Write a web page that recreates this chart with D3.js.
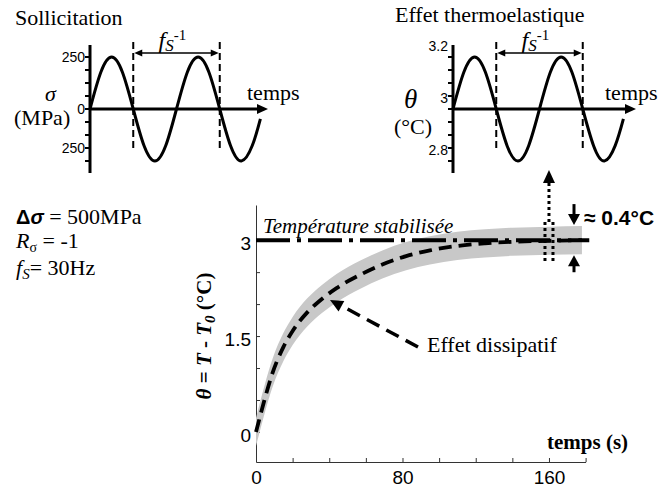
<!DOCTYPE html>
<html><head><meta charset="utf-8">
<script src="https://cdn.jsdelivr.net/npm/d3@7"></script>
<style>body{margin:0;background:#fff} svg{display:block;background:#fff}</style>
</head><body>
<svg id="c" width="661" height="492"></svg>
<script>
// ---------- data ----------
// main chart: dissipative (mean) temperature rise
const dissTime  = [0, 2, 5, 9, 15, 20, 28, 36, 44, 57, 69, 82, 95, 110, 125, 140, 160, 178];
const dissTheta = [0, 0.22, 0.54, 0.92, 1.33, 1.58, 1.87, 2.08, 2.25, 2.46, 2.62, 2.75, 2.84, 2.91, 2.95, 2.975, 2.99, 3.0];
const bandHalfWidth = 0.22;          // thermoelastic oscillation half amplitude (°C)
const stabilizedTheta = 3;
const stabilizedEnd = 182;
const markerTime = 160;
const mainXTicks  = [0, 20, 40, 60, 80, 100, 120, 140, 160, 180];
const mainXLabels = [0, 80, 160];
const mainYTicks  = [0, 0.5, 1, 1.5, 2, 2.5, 3];
const mainYLabels = [0, 1.5, 3];

// top insets: one loading cycle (phase in periods)
const cyclePhase  = [0, 0.125, 0.25, 0.375, 0.5, 0.625, 0.75, 0.875, 1, 1.125, 1.25, 1.375, 1.5, 1.625, 1.75, 1.875, 1.97];
const sigmaValues = [0, 177, 250, 177, 0, -177, -250, -177, 0, 177, 250, 177, 0, -177, -250, -177, -47];
const thetaCycle  = [3, 3.141, 3.2, 3.141, 3, 2.859, 2.8, 2.859, 3, 3.141, 3.2, 3.141, 3, 2.859, 2.8, 2.859, 2.962];
const sigmaTicks  = [-250, -187.5, -125, -62.5, 0, 62.5, 125, 187.5, 250];
const sigmaLabelValues = [250, 0, -187.5];
const sigmaLabelTexts  = ["250", "0", "250"];
const thetaTicks  = [2.8, 2.85, 2.9, 2.95, 3, 3.05, 3.1, 3.15, 3.2];
const thetaLabelValues = [3.2, 3, 2.8];
const thetaLabelTexts  = ["3.2", "3", "2.8"];
const periodMarks = [0.5, 1.5];

// ---------- drawing ----------
const svg = d3.select("#c");
const SERIF = "'Liberation Serif','Times New Roman',serif";
const SANS = "'Liberation Sans',Arial,sans-serif";

function tri(g, tipX, tipY, dirX, dirY, len, half, fill) {
  const n = Math.hypot(dirX, dirY); const ux = dirX / n, uy = dirY / n;
  const bx = tipX - ux * len, by = tipY - uy * len;
  const px = -uy, py = ux;
  g.append("path")
    .attr("d", `M${tipX},${tipY}L${bx + px * half},${by + py * half}L${bx - px * half},${by - py * half}Z`)
    .attr("fill", fill || "#000");
}

// ---- inset drawing ----
function drawInset(o) {
  const g = svg.append("g");
  const xs = d3.scaleLinear().domain([0, 1]).range([o.x0, o.x0 + 86.5]);
  const ys = d3.scaleLinear().domain(o.domain).range([161, 57]);
  const yAxis = ys(o.mid);
  g.append("line").attr("x1", o.x0).attr("x2", o.x0).attr("y1", 45).attr("y2", 173)
    .attr("stroke", "#000").attr("stroke-width", 3);
  g.selectAll(".tk").data(o.ticks).join("line")
    .attr("x1", o.x0 - 5).attr("x2", o.x0).attr("y1", d => ys(d)).attr("y2", d => ys(d))
    .attr("stroke", "#000").attr("stroke-width", 2);
  g.selectAll(".tl").data(o.labelValues).join("text")
    .attr("x", o.x0 - 5).attr("y", d => ys(d) + o.labelDy)
    .attr("text-anchor", "end").attr("dominant-baseline", "central")
    .attr("font-family", SANS).attr("font-size", 14).text((d, i) => o.labelTexts[i]);
  const tip = o.x0 + o.axisLen;
  g.append("line").attr("x1", o.x0).attr("x2", tip - 8).attr("y1", yAxis).attr("y2", yAxis)
    .attr("stroke", "#000").attr("stroke-width", 3);
  tri(g, tip, yAxis, 1, 0, 11, 5);
  g.append("text").attr("x", o.tempsX).attr("y", 100).attr("font-family", SERIF).attr("font-size", 22).text("temps");
  const line = d3.line().x((d, i) => xs(cyclePhase[i])).y(d => ys(d)).curve(d3.curveNatural);
  g.append("path").attr("d", line(o.values)).attr("fill", "none").attr("stroke", "#000").attr("stroke-width", 3);
  g.selectAll(".pm").data(periodMarks).join("line")
    .attr("x1", d => xs(d)).attr("x2", d => xs(d)).attr("y1", 42).attr("y2", 150)
    .attr("stroke", "#000").attr("stroke-width", 2).attr("stroke-dasharray", "7,4");
  const a = xs(periodMarks[0]), b = xs(periodMarks[1]);
  g.append("line").attr("x1", a + 6).attr("x2", b - 6).attr("y1", 53).attr("y2", 53).attr("stroke", "#000").attr("stroke-width", 1.3);
  tri(g, a + 1, 53, -1, 0, 8, 3.5);
  tri(g, b - 1, 53, 1, 0, 8, 3.5);
  const fx = (a + b) / 2 - 18;
  const t = g.append("text").attr("x", fx).attr("y", 48).attr("font-family", SERIF);
  t.append("tspan").attr("font-style", "italic").attr("font-size", 24).text("f");
  t.append("tspan").attr("font-style", "italic").attr("font-size", 17).attr("dy", 3).text("S");
  t.append("tspan").attr("font-size", 15).attr("dy", -11).text("-1");
  return g;
}

drawInset({x0: 90, domain: [-250, 250], mid: 0, ticks: sigmaTicks, labelValues: sigmaLabelValues,
  labelTexts: sigmaLabelTexts, labelDy: 0, axisLen: 178, tempsX: 247, values: sigmaValues});
drawInset({x0: 453, domain: [2.8, 3.2], mid: 3, ticks: thetaTicks, labelValues: thetaLabelValues,
  labelTexts: thetaLabelTexts, labelDy: -11, axisLen: 183, tempsX: 605, values: thetaCycle});

svg.append("text").attr("x", 15).attr("y", 25).attr("font-family", SERIF).attr("font-size", 22).text("Sollicitation");
svg.append("text").attr("x", 395).attr("y", 22).attr("font-family", SERIF).attr("font-size", 22).text("Effet thermoelastique");
svg.append("text").attr("x", 45).attr("y", 101).attr("font-family", SERIF).attr("font-style", "italic").attr("font-size", 22).text("σ");
svg.append("text").attr("x", 14).attr("y", 125).attr("font-family", SERIF).attr("font-size", 22).text("(MPa)");
svg.append("text").attr("x", 404).attr("y", 108).attr("font-family", SERIF).attr("font-style", "italic").attr("font-size", 27).text("θ");
svg.append("text").attr("x", 394).attr("y", 134).attr("font-family", SERIF).attr("font-size", 22).text("(°C)");

// ---- left parameter block ----
{
  const l1 = svg.append("text").attr("x", 16).attr("y", 224).attr("font-size", 22);
  l1.append("tspan").attr("font-family", SANS).attr("font-weight", "bold").attr("font-size", 20).text("Δ");
  l1.append("tspan").attr("font-family", SANS).attr("font-weight", "bold").attr("font-style", "italic").attr("font-size", 20).text("σ");
  l1.append("tspan").attr("font-family", SERIF).text(" = 500MPa");
  const l2 = svg.append("text").attr("x", 16).attr("y", 248).attr("font-family", SERIF).attr("font-size", 22);
  l2.append("tspan").attr("font-style", "italic").text("R");
  l2.append("tspan").attr("font-size", 14).attr("dy", 4).text("σ");
  l2.append("tspan").attr("dy", -4).text(" = -1");
  const l3 = svg.append("text").attr("x", 16).attr("y", 275).attr("font-family", SERIF).attr("font-size", 22);
  l3.append("tspan").attr("font-style", "italic").text("f");
  l3.append("tspan").attr("font-style", "italic").attr("font-size", 15).attr("dy", 4).text("S");
  l3.append("tspan").attr("dy", -4).text("= 30Hz");
}

// ---- main chart ----
const x = d3.scaleLinear().domain([0, 180]).range([256, 585.6]);
const y = d3.scaleLinear().domain([-0.47, 3.55]).range([462, 205]);

const gx = svg.append("g").attr("transform", "translate(0,462)")
  .call(d3.axisBottom(x).tickValues(mainXTicks).tickSizeInner(-4).tickSizeOuter(0).tickPadding(8.5)
    .tickFormat(d => mainXLabels.includes(d) ? d : ""));
const gy = svg.append("g").attr("transform", "translate(256,0)")
  .call(d3.axisLeft(y).tickValues(mainYTicks).tickSizeInner(-4).tickSizeOuter(0).tickPadding(5)
    .tickFormat(d => mainYLabels.includes(d) ? d : ""));
[gx, gy].forEach(g => {
  g.select(".domain").attr("stroke", "#333");
  g.selectAll(".tick line").attr("stroke", "#333");
  g.selectAll("text").attr("font-family", SANS).attr("font-size", 19).attr("fill", "#000");
});
gy.selectAll(".tick text").attr("dy", "0.5em");

const pts = dissTime.map((t, i) => ({t, v: dissTheta[i]}));
svg.append("path")
  .attr("d", d3.area().x(d => x(d.t)).y0(d => y(d.v - bandHalfWidth)).y1(d => y(d.v + bandHalfWidth)).curve(d3.curveMonotoneX)(pts))
  .attr("fill", "#c8c8c8");

svg.append("line").attr("x1", x(0)).attr("x2", x(stabilizedEnd)).attr("y1", y(stabilizedTheta)).attr("y2", y(stabilizedTheta))
  .attr("stroke", "#000").attr("stroke-width", 4).attr("stroke-dasharray", "34,7,4,7");

svg.append("path")
  .attr("d", d3.line().x(d => x(d.t)).y(d => y(d.v)).curve(d3.curveMonotoneX)(pts))
  .attr("fill", "none").attr("stroke", "#000").attr("stroke-width", 3.8).attr("stroke-dasharray", "13,7");

svg.append("text").attr("x", 263).attr("y", 233).attr("font-family", SERIF).attr("font-style", "italic")
  .attr("font-size", 21).text("Température stabilisée");

// Effet dissipatif pointer
svg.append("line").attr("x1", 418).attr("y1", 347).attr("x2", 340).attr("y2", 305)
  .attr("stroke", "#000").attr("stroke-width", 3.5).attr("stroke-dasharray", "14,8");
tri(svg, 330, 300, -87, -47, 13, 6);
svg.append("text").attr("x", 427).attr("y", 352).attr("font-family", SERIF).attr("font-size", 22).text("Effet dissipatif");

// dotted marker around t = 160
const mx = x(markerTime);
[-4, 4].forEach(o => svg.append("line").attr("x1", mx + o).attr("x2", mx + o).attr("y1", 222).attr("y2", 261)
  .attr("stroke", "#000").attr("stroke-width", 3).attr("stroke-dasharray", "3,3"));
svg.append("line").attr("x1", mx).attr("x2", mx).attr("y1", 222).attr("y2", 182)
  .attr("stroke", "#000").attr("stroke-width", 3).attr("stroke-dasharray", "3,3");
tri(svg, mx, 170, 0, -1, 13, 6);

// ≈ 0.4°C arrows
const ax = 574;
const yTop = y(stabilizedTheta + bandHalfWidth), yBot = y(stabilizedTheta - bandHalfWidth);
svg.append("line").attr("x1", ax).attr("x2", ax).attr("y1", yTop - 22).attr("y2", yTop - 8).attr("stroke", "#000").attr("stroke-width", 3);
tri(svg, ax, yTop - 1, 0, 1, 11, 6);
svg.append("line").attr("x1", ax).attr("x2", ax).attr("y1", yBot + 8).attr("y2", yBot + 18).attr("stroke", "#000").attr("stroke-width", 3);
tri(svg, ax, yBot + 1, 0, -1, 11, 6);
svg.append("text").attr("x", 584).attr("y", 225).attr("font-family", SANS).attr("font-weight", "bold")
  .attr("font-size", 21).text("≈ 0.4°C");

// axis titles
svg.append("text").attr("x", 547).attr("y", 449).attr("font-family", SERIF).attr("font-weight", "bold")
  .attr("font-size", 21).text("temps (s)");
{
  const t = svg.append("text").attr("transform", "translate(211,336) rotate(-90)").attr("text-anchor", "middle")
    .attr("font-family", SERIF).attr("font-weight", "bold").attr("font-size", 21);
  t.append("tspan").attr("font-style", "italic").text("θ");
  t.append("tspan").text(" = ");
  t.append("tspan").attr("font-style", "italic").text("T");
  t.append("tspan").text(" - ");
  t.append("tspan").attr("font-style", "italic").text("T");
  t.append("tspan").attr("font-style", "italic").attr("font-size", 15).attr("dy", 4).text("0");
  t.append("tspan").attr("dy", -4).text(" (°C)");
}
</script>
</body></html>
